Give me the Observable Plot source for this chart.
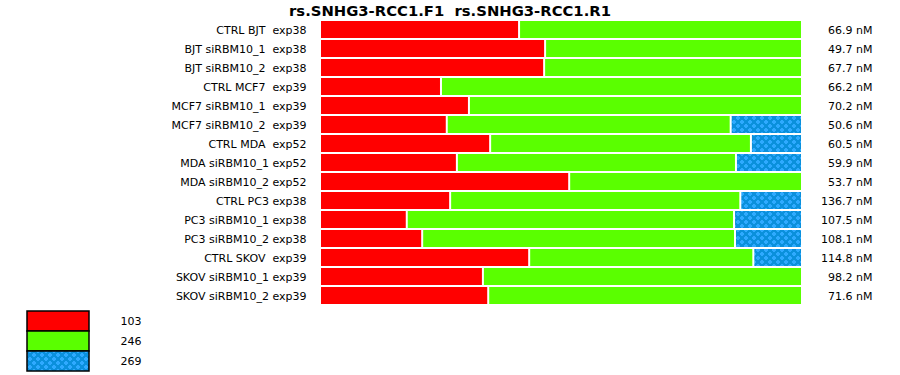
<!DOCTYPE html>
<html>
<head>
<meta charset="utf-8">
<script src="https://cdn.jsdelivr.net/npm/d3@7"></script>
<script src="https://cdn.jsdelivr.net/npm/@observablehq/plot@0.6"></script>
<style>
  html, body { margin: 0; padding: 0; background: #fff; }
  #wrap { width: 900px; font-family: "DejaVu Sans", Verdana, sans-serif; }
  #title { height: 20px; line-height: 22px; text-align: center; font-size: 14.8px; font-weight: bold; color: #000; white-space: pre; }
  svg { display: block; }
</style>
</head>
<body>
<svg width="0" height="0" style="position:absolute">
  <defs>
    <pattern id="dots" patternUnits="userSpaceOnUse" width="8" height="8">
      <rect x="0" y="0" width="8" height="8" fill="#0a90dc"></rect>
      <rect x="0" y="1" width="4" height="2" fill="#2eaaff"></rect>
      <rect x="1" y="0" width="2" height="4" fill="#2eaaff"></rect>
      <rect x="4" y="5" width="4" height="2" fill="#2eaaff"></rect>
      <rect x="5" y="4" width="2" height="4" fill="#2eaaff"></rect>
    </pattern>
  </defs>
</svg>
<div id="wrap">
  <div id="title">rs.SNHG3-RCC1.F1  rs.SNHG3-RCC1.R1</div>
  <div id="chart"></div>
  <div id="legend"></div>
</div>
<script>
const NB = "\u00a0";
const labels = [
  "CTRL BJT" + NB + " exp38",
  "BJT siRBM10_1" + NB + " exp38",
  "BJT siRBM10_2" + NB + " exp38",
  "CTRL MCF7" + NB + " exp39",
  "MCF7 siRBM10_1" + NB + " exp39",
  "MCF7 siRBM10_2" + NB + " exp39",
  "CTRL MDA" + NB + " exp52",
  "MDA siRBM10_1 exp52",
  "MDA siRBM10_2 exp52",
  "CTRL PC3 exp38",
  "PC3 siRBM10_1 exp38",
  "PC3 siRBM10_2 exp38",
  "CTRL SKOV" + NB + " exp39",
  "SKOV siRBM10_1 exp39",
  "SKOV siRBM10_2 exp39"
];
const series = ["103", "246", "269"];
const values103 = [41.3, 46.7, 46.5, 25.1, 30.9, 26.3, 35.3, 28.4, 51.7, 27.0, 18.0, 21.2, 43.4, 33.8, 34.9];
const values246 = [58.7, 53.3, 53.5, 74.9, 69.1, 58.9, 54.1, 57.9, 48.3, 60.2, 67.9, 64.9, 46.5, 66.2, 65.1];
const values269 = [0, 0, 0, 0, 0, 14.8, 10.6, 13.7, 0, 12.8, 14.1, 13.9, 10.1, 0, 0];
const concentrations = [66.9, 49.7, 67.7, 66.2, 70.2, 50.6, 60.5, 59.9, 53.7, 136.7, 107.5, 108.1, 114.8, 98.2, 71.6];
const seriesColors = ["#ff0000", "#5aff00", "url(#dots)"];

const seriesValues = [values103, values246, values269];
const rows = [];
labels.forEach((label, i) => {
  series.forEach((s, k) => {
    const v = seriesValues[k][i];
    if (v > 0) rows.push({label, series: s, value: v});
  });
});

const fontStyle = {fontFamily: "DejaVu Sans, Verdana, sans-serif", fontSize: "11px", color: "black", background: "white", overflow: "visible"};

const chart = Plot.plot({
  width: 900,
  height: 285,
  marginTop: 0,
  marginBottom: 0,
  marginLeft: 319,
  marginRight: 99,
  style: fontStyle,
  x: {domain: [0, 100], axis: null},
  y: {domain: labels, padding: 0, label: null},
  color: {type: "ordinal", domain: series, range: seriesColors},
  marks: [
    Plot.barX(rows, {y: "label", x: "value", fill: "series", insetLeft: 2, insetTop: 1, insetBottom: 1}),
    Plot.axisY({tickSize: 0, tickPadding: 13, label: null, fontSize: 11}),
    Plot.text(labels, {y: d => d, text: (d, i) => concentrations[i].toFixed(1) + " nM", frameAnchor: "right", textAnchor: "end", dx: 71, fontSize: 11})
  ]
});
document.getElementById("chart").appendChild(chart);

const legend = Plot.plot({
  width: 900,
  height: 70,
  marginTop: 6,
  marginBottom: 4,
  marginLeft: 27,
  marginRight: 811,
  style: fontStyle,
  x: {domain: [0, 1], axis: null},
  y: {domain: series, padding: 0, axis: null},
  color: {type: "ordinal", domain: series, range: seriesColors},
  marks: [
    Plot.barX(series, {y: d => d, x: () => 1, fill: d => d, stroke: "black", strokeWidth: 1.5}),
    Plot.text(series, {y: d => d, text: d => d, frameAnchor: "left", textAnchor: "start", dx: 93, fontSize: 11})
  ]
});
document.getElementById("legend").appendChild(legend);
</script>
</body>
</html>
